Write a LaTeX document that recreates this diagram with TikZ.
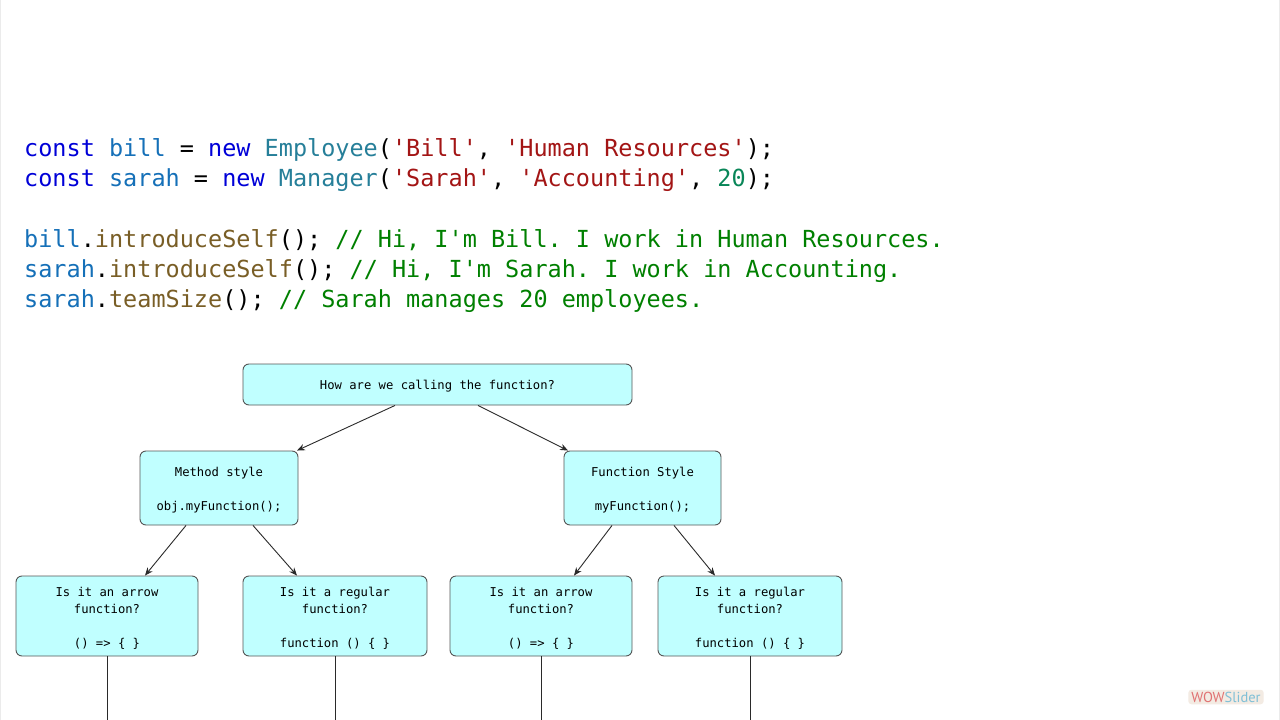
\documentclass[tikz,border=0pt]{standalone}
\usepackage{fontspec}
\setmonofont{DejaVu Sans Mono}
\newfontfamily\logofont{PT Sans}
\usetikzlibrary{arrows.meta}
\definecolor{kw}{HTML}{0000D8}
\definecolor{var}{HTML}{1570B8}
\definecolor{cls}{HTML}{267F99}
\definecolor{str}{HTML}{A31515}
\definecolor{num}{HTML}{098658}
\definecolor{fn}{HTML}{795E26}
\definecolor{cmt}{HTML}{008000}
\definecolor{boxfill}{HTML}{C0FFFF}
\definecolor{boxline}{HTML}{555555}
\definecolor{edgecol}{HTML}{2A2A2A}
\definecolor{logobg}{HTML}{F3EBE3}
\definecolor{wowred}{HTML}{E07272}
\definecolor{wowblue}{HTML}{7FBFD6}
\newcommand{\toppad}{\rule{0pt}{13.5pt}}
\tikzset{
  codeline/.style={anchor=base west, inner sep=0pt, font=\ttfamily\fontsize{23.5}{28}\selectfont},
  box/.style={draw=boxline, fill=boxfill, rounded corners=6pt, line width=0.9pt,
    font=\ttfamily\fontsize{12.2}{17}\selectfont, align=center, inner sep=0pt},
  arr/.style={draw=edgecol, line width=0.9pt, -{Stealth[length=8pt,width=6.5pt]}},
  plainline/.style={draw=edgecol, line width=0.9pt}
}
\begin{document}
\begin{tikzpicture}[x=1pt,y=-1pt]
\useasboundingbox (0,0) rectangle (1280,720);
\fill[white] (0,0) rectangle (1280,720);
\draw[black!8, line width=1pt] (0.5,0) -- (0.5,720);
\draw[black!8, line width=1pt] (1279.5,0) -- (1279.5,720);

% code
\node[codeline] (c1) at (24,156) {\textcolor{kw}{const} \textcolor{var}{bill} = \textcolor{kw}{new} \textcolor{cls}{Employee}(\textcolor{str}{'Bill'}, \textcolor{str}{'Human Resources'});};
\node[codeline] (c2) at (24,186) {\textcolor{kw}{const} \textcolor{var}{sarah} = \textcolor{kw}{new} \textcolor{cls}{Manager}(\textcolor{str}{'Sarah'}, \textcolor{str}{'Accounting'}, \textcolor{num}{20});};
\node[codeline] (c3) at (24,247) {\textcolor{var}{bill}.\textcolor{fn}{introduceSelf}(); \textcolor{cmt}{// Hi, I'm Bill. I work in Human Resources.}};
\node[codeline] (c4) at (24,277) {\textcolor{var}{sarah}.\textcolor{fn}{introduceSelf}(); \textcolor{cmt}{// Hi, I'm Sarah. I work in Accounting.}};
\node[codeline] (c5) at (24,307) {\textcolor{var}{sarah}.\textcolor{fn}{teamSize}(); \textcolor{cmt}{// Sarah manages 20 employees.}};

% diagram
\node[box, minimum width=389pt, minimum height=41pt] (q) at (437.5,384.5) {\toppad How are we calling the function?};
\node[box, minimum width=158pt, minimum height=74pt] (ms) at (219,488) {\toppad Method style\\[17pt]obj.myFunction();};
\node[box, minimum width=157pt, minimum height=74pt] (fs) at (642.5,488) {\toppad Function Style\\[17pt]myFunction();};
\node[box, minimum width=182pt, minimum height=80pt] (a1) at (107,616) {\toppad Is it an arrow\\function?\\[17pt]() => \{ \}};
\node[box, minimum width=184pt, minimum height=80pt] (r1) at (335,616) {\toppad Is it a regular\\function?\\[17pt]function () \{ \}};
\node[box, minimum width=182pt, minimum height=80pt] (a2) at (541,616) {\toppad Is it an arrow\\function?\\[17pt]() => \{ \}};
\node[box, minimum width=184pt, minimum height=80pt] (r2) at (750,616) {\toppad Is it a regular\\function?\\[17pt]function () \{ \}};

\draw[arr] ([xshift=-42.5pt]q.south) -- ([xshift=78pt]ms.north);
\draw[arr] ([xshift=40.5pt]q.south) -- ([xshift=-74.5pt]fs.north);
\draw[arr] ([xshift=-33pt]ms.south) -- ([xshift=38pt]a1.north);
\draw[arr] ([xshift=34pt]ms.south) -- ([xshift=-38pt]r1.north);
\draw[arr] ([xshift=-30.5pt]fs.south) -- ([xshift=33pt]a2.north);
\draw[arr] ([xshift=31.5pt]fs.south) -- ([xshift=-35pt]r2.north);

\coordinate (e1) at (107,724);
\coordinate (e2) at (335,724);
\coordinate (e3) at (541,724);
\coordinate (e4) at (750,724);
\draw[plainline] (a1.south) -- (e1);
\draw[plainline] (r1.south) -- (e2);
\draw[plainline] (a2.south) -- (e3);
\draw[plainline] (r2.south) -- (e4);

% logo
\node[fill=logobg, rounded corners=3pt, inner xsep=3pt, inner ysep=2pt, font=\logofont\fontsize{14.5}{14.5}\selectfont] (logo) at (1226,697) {\textcolor{wowred}{WOW}\textcolor{wowblue}{Slider}};
\end{tikzpicture}
\end{document}
